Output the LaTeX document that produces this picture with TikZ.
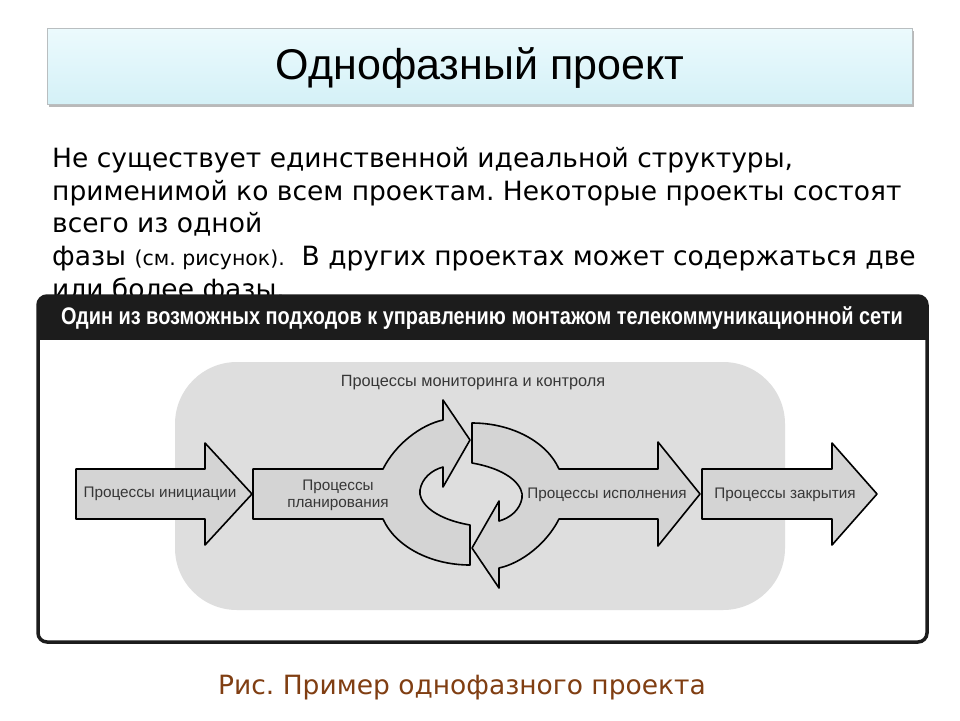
\documentclass[tikz,border=0pt]{standalone}
\usepackage{fontspec}
\setmainfont{DejaVu Sans}
\newfontfamily\arialfont{Liberation Sans}
\newfontfamily\headfont[FakeStretch=0.83]{Liberation Sans}
\usetikzlibrary{positioning}
\definecolor{titletop}{RGB}{236,250,253}
\definecolor{titlebot}{RGB}{212,241,247}
\definecolor{titleedge}{RGB}{185,190,192}
\definecolor{frameblack}{RGB}{28,28,28}
\definecolor{panelgray}{RGB}{222,222,222}
\definecolor{arrowgray}{RGB}{212,212,212}
\definecolor{procgray}{RGB}{55,55,55}
\definecolor{captionbrown}{RGB}{128,62,18}
\tikzstyle{phasearrow} = [
    fill=arrowgray,
    draw=black,
    line width=1.6pt,
    line join=round
]
\tikzstyle{proctext} = [
    font=\arialfont\fontsize{15.3}{17}\selectfont,
    text=procgray,
    align=center,
    inner sep=0pt
]
\tikzstyle{bodyline} = [
    font=\fontsize{26.5}{30}\selectfont,
    anchor=base west,
    inner sep=0pt
]
\frenchspacing
\begin{document}
\begin{tikzpicture}[x=1pt, y=-1pt]

\fill[white] (0,0) rectangle (960,720);
\useasboundingbox (0,0) rectangle (960,720);

% title bar
\fill[gray!55] (49,31) rectangle (914,107);
\shade[top color=titletop, bottom color=titlebot, draw=titleedge] (47,28) rectangle (912,104);
\node (title) at (480,68) {\arialfont\fontsize{43}{50}\selectfont Однофазный проект};

% text
\node (line1) [bodyline] at (52,167) {Не существует единственной идеальной структуры,};
\node (line2) [bodyline] at (52,200) {применимой ко всем проектам. Некоторые проекты состоят};
\node (line3) [bodyline] at (52,232) {всего из одной};
\node (line4) [bodyline] at (52,265)
{фазы {\fontsize{20.5}{24}\selectfont(см. рисунок).}\ \ В других проектах может содержаться две};
\node (line5) [bodyline] at (52,298) {или более фазы.};

% figure frame
\begin{scope}
\clip[rounded corners=9pt] (38,296) rectangle (927,642);
\fill[white] (38,296) rectangle (927,642);
\fill[frameblack] (38,296) rectangle (927,340);
\end{scope}
\draw[frameblack, line width=3.5pt, rounded corners=9pt] (38,296) rectangle (927,642);
\node (header) at (482,318)
{\headfont\bfseries\fontsize{24}{27}\selectfont\color{white}Один из возможных подходов к управлению монтажом телекоммуникационной сети};

\fill[panelgray, rounded corners=62pt] (175,362) rectangle (785,610);

% phase arrows
\draw[phasearrow] (76,469) -- (205,469) -- (205,443) -- (252,494) -- (205,545) -- (205,519) -- (76,519) -- cycle;
\draw[phasearrow] (702,469) -- (832,469) -- (832,443) -- (877,494) -- (832,545) -- (832,519) -- (702,519) -- cycle;

\begin{scope}[shift={(471,494)}]
\draw[phasearrow] (-88,-25) -- (-218,-25) -- (-218,25) -- (-88,25)
    .. controls (-76,52) and (-41,71) .. (-1,71) -- (-1,31)
    .. controls (-41,24) and (-53,6) .. (-51,-4)
    .. controls (-49,-16) and (-39,-24) .. (-28,-27)
    -- (-28,-7) -- (-1,-54) -- (-28,-94) -- (-28,-74)
    .. controls (-51,-69) and (-76,-49) .. (-88,-25) -- cycle;
\draw[phasearrow] (88,-25)
    .. controls (76,-52) and (41,-71) .. (1,-71) -- (1,-31)
    .. controls (41,-24) and (53,-6) .. (51,4)
    .. controls (49,16) and (39,24) .. (28,27)
    -- (28,7) -- (1,54) -- (28,94) -- (28,74)
    .. controls (51,69) and (76,49) .. (88,25)
    -- (187,25) -- (187,52) -- (229,0) -- (187,-52) -- (187,-25) -- cycle;
\end{scope}

\node (init) [proctext] at (160,494) {Процессы инициации};
\node (plan) [proctext] at (338,495) {Процессы\\планирования};
\node (monitor) [proctext, font=\arialfont\fontsize{16.3}{18}\selectfont] at (473,383) {Процессы мониторинга и контроля};
\node (exec) [proctext] at (607,495) {Процессы исполнения};
\node (close) [proctext] at (785,495) {Процессы закрытия};

\node (caption) at (462,688)
{\fontsize{26.5}{30}\selectfont\color{captionbrown}Рис. Пример однофазного проекта};

\end{tikzpicture}
\end{document}
